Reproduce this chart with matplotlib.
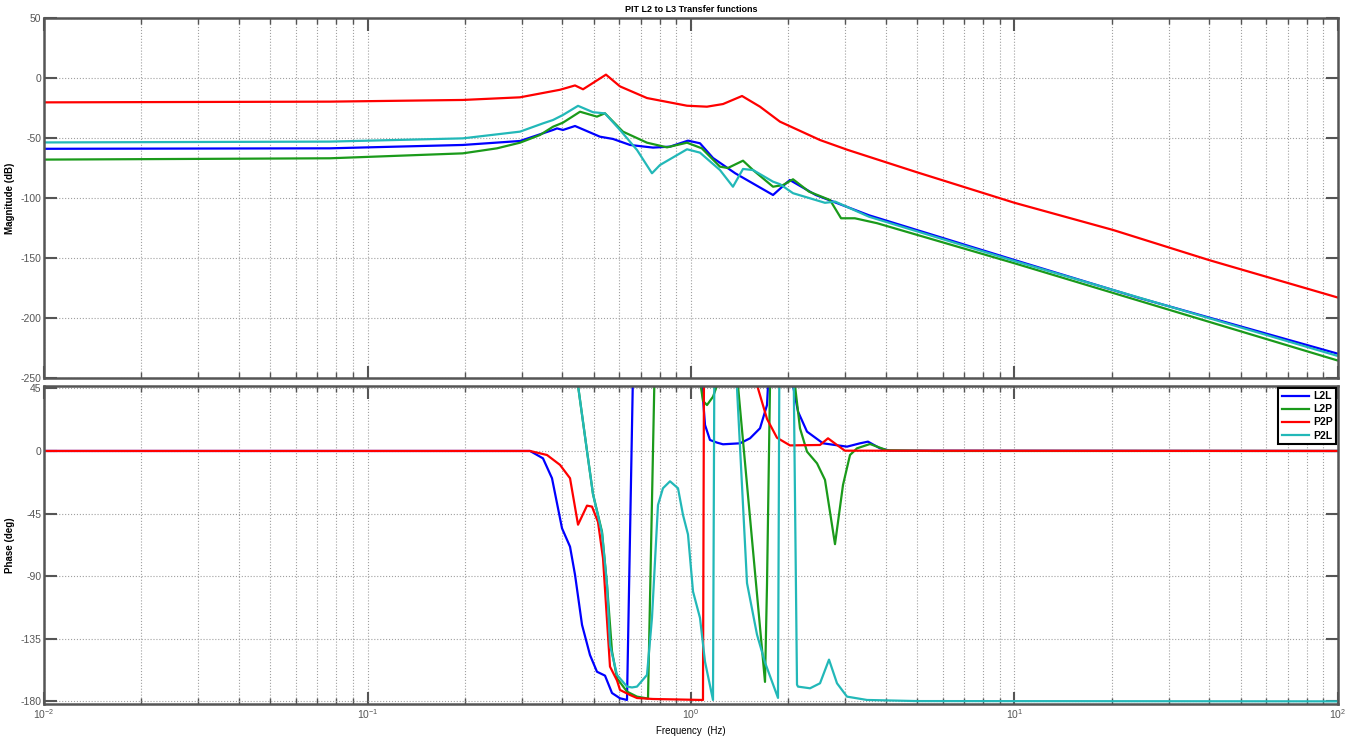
import numpy as np
import matplotlib.pyplot as plt

plt.rcParams['font.family'] = ['Liberation Sans', 'DejaVu Sans']
plt.rcParams['axes.unicode_minus'] = False

# ---- magnitude (dB) ----
f_l2l_mag = [0.01, 0.0766, 0.197, 0.296, 0.3745, 0.3853, 0.402, 0.438, 0.523, 0.574, 0.648,
             0.763, 0.861, 0.979, 1.066, 1.17, 1.37, 1.793, 2.02, 2.43, 3.55, 10, 24.1, 100]
l2l_mag = [-59, -58.6, -55.8, -52.5, -43.3, -42, -43.3, -40, -48.9, -50.8, -55.8,
           -58, -57.2, -52.2, -54.4, -66.7, -79.4, -97.5, -85, -97.5, -114.4, -151.7, -183, -229.8]

f_l2p_mag = [0.01, 0.0766, 0.197, 0.2514, 0.2961, 0.3413, 0.3745, 0.402, 0.4539, 0.512, 0.542,
             0.616, 0.731, 0.843, 0.972, 1.08, 1.229, 1.30, 1.448, 1.555, 1.793, 1.925, 2.067,
             2.3165, 2.69, 2.91, 3.21, 3.76, 10, 100]
l2p_mag = [-68, -66.9, -62.8, -58.6, -53.9, -47.5, -40.6, -37.2, -28.1, -32.2, -29.4,
           -44.7, -53.9, -57.8, -53.9, -58.6, -73.9, -75, -68.9, -76.7, -90.6, -89.2, -84.4,
           -94.7, -101.7, -116.9, -116.9, -121, -154.4, -235.5]

f_p2p_mag = [0.01, 0.0766, 0.197, 0.2961, 0.3936, 0.438, 0.4637, 0.546, 0.6033, 0.731, 0.972,
             1.12, 1.256, 1.438, 1.634, 1.884, 2.505, 3.057, 4.96, 10, 20.2, 39.9, 100]
p2p_mag = [-20.3, -19.7, -18.3, -16.1, -9.8, -6.2, -9.4, 2.8, -7.0, -16.7, -23.1,
           -23.9, -21.7, -15.0, -23.9, -36.4, -51.7, -60, -78.3, -104, -126.7, -151.7, -183]

f_p2l_mag = [0.01, 0.0766, 0.197, 0.2961, 0.3487, 0.3745, 0.402, 0.4475, 0.4978, 0.542, 0.6033,
             0.681, 0.7575, 0.802, 0.972, 1.066, 1.229, 1.348, 1.448, 1.555, 1.793, 1.884,
             2.067, 2.595, 2.79, 3.55, 10, 100]
p2l_mag = [-53.7, -53, -50.3, -44.7, -37.8, -35, -30.8, -23.2, -28.5, -29.5, -43.3,
           -60, -79.4, -72.5, -59.4, -62.2, -76.7, -90.6, -75.8, -76.7, -86.4, -88.5,
           -96, -104, -103, -115.6, -152.5, -231.7]

# ---- phase (deg) ----
f_l2l_ph = [0.01, 0.318, 0.3487, 0.3718, 0.3993, 0.4227, 0.438, 0.4604, 0.4873, 0.5121, 0.5422,
            0.5699, 0.6033, 0.6341, 0.6761, 0.9, 1.051, 1.0892, 1.1049, 1.1446, 1.2034, 1.2558,
            1.4174, 1.5221, 1.6342, 1.7177, 1.7298, 1.78, 2.02, 2.0668, 2.1419, 2.2836, 2.5586,
            3.0352, 3.3296, 3.5246, 3.8388, 4.1215, 100]
l2l_ph = [0, 0, -5.3, -19.6, -55.6, -68.8, -89, -125, -146.7, -158.7, -161.5,
          -174, -177.8, -179, 175, 150, 90, 38, 18.7, 7.9, 6.0, 4.8,
          5.5, 9.1, 16.3, 33, 47, 120, 100, 47, 28.3, 13.9, 5.5,
          3.1, 5.5, 6.7, 1.9, 0.2, 0]

f_l2p_ph = [0.01, 0.408, 0.4475, 0.477, 0.4978, 0.5307, 0.5499, 0.5699, 0.5906, 0.6341, 0.6809,
            0.7364, 0.79, 1.051, 1.0892, 1.1206, 1.1695, 1.2034, 1.26, 1.35, 1.397, 1.6933,
            1.7177, 1.7547, 1.78, 2.02, 2.0965, 2.1723, 2.2836, 2.4521, 2.5954, 2.7869, 2.9505,
            3.101, 3.2591, 3.5753, 4.0351, 5.6, 100]
l2p_ph = [180, 180, 47, 0, -31, -58, -96, -144, -163.4, -173, -176.6,
          -178, 175, 60, 36, 33, 39, 47, 90, 90, 47, -166,
          -96, 47, 120, 120, 47, 16.3, -0.5, -8.9, -20.8, -67, -24.4,
          -2.9, 1.9, 5, 0.5, 0, 0]

f_p2p_ph = [0.01, 0.3179, 0.3588, 0.3936, 0.4227, 0.4475, 0.477, 0.4943, 0.5158, 0.5345, 0.5618,
            0.5906, 0.6033, 0.6477, 0.6809, 0.763, 1.089, 1.1008, 1.15, 1.32, 1.52, 1.611,
            1.718, 1.844, 2.023, 2.505, 2.652, 2.827, 2.99, 100]
p2p_ph = [0, 0, -2.9, -10, -19.6, -53, -39.3, -40, -51, -77, -155,
          -165, -171.8, -175.4, -177.6, -178.3, -179, 179, 165, 120, 70, 45,
          23, 9.5, 4, 4.3, 9.1, 4.3, 0.2, 0]

f_p2l_ph = [0.01, 0.408, 0.4475, 0.477, 0.4978, 0.5307, 0.5499, 0.5618, 0.5906, 0.6341, 0.657,
            0.6809, 0.7311, 0.7575, 0.7906, 0.8191, 0.8612, 0.9116, 0.9447, 0.9788, 1.0144,
            1.0661, 1.1049, 1.1695, 1.1863, 1.3014, 1.3874, 1.4899, 1.5996, 1.6933, 1.8575,
            1.8842, 2.0668, 2.1266, 2.1419, 2.3331, 2.5051, 2.6706, 2.827, 3.0352, 3.4995, 5, 100]
p2l_ph = [180, 180, 47, 0, -31, -59, -96, -139.5, -161, -169.4, -170,
          -169.4, -161, -120, -38.8, -26.8, -21.8, -26.8, -46, -60, -101,
          -120, -151.5, -179, 175, 140, 45, -95, -132, -152, -177.5,
          175, 100, -168, -169.4, -170.6, -167, -150, -167, -176.6, -179, -179.8, -180]

labels = ['L2L', 'L2P', 'P2P', 'P2L']
colors = ['#0000ff', '#1a9a1a', '#ff0000', '#22b8b8']

fig = plt.figure(figsize=(13.54, 7.42), dpi=100)
ax1 = fig.add_axes([0.0325, 0.49057, 0.95568, 0.48517])
ax2 = fig.add_axes([0.0325, 0.05121, 0.95568, 0.42857])

mag = [(f_l2l_mag, l2l_mag), (f_l2p_mag, l2p_mag), (f_p2p_mag, p2p_mag), (f_p2l_mag, p2l_mag)]
ph = [(f_l2l_ph, l2l_ph), (f_l2p_ph, l2p_ph), (f_p2p_ph, p2p_ph), (f_p2l_ph, p2l_ph)]

for (f, m), c, lab in zip(mag, colors, labels):
    ax1.semilogx(f, m, color=c, lw=1.6, label=lab)
for (f, p), c, lab in zip(ph, colors, labels):
    ax2.semilogx(f, p, color=c, lw=1.6, label=lab)

spine_c = '#555555'
for ax in (ax1, ax2):
    ax.set_xlim(0.01, 100)
    ax.grid(True, which='major', axis='both', linestyle=':', color='#a0a0a0', lw=0.8)
    ax.grid(True, which='minor', axis='x', linestyle=':', color='#a0a0a0', lw=0.8)
    ax.tick_params(which='both', direction='in', top=True, right=True, color=spine_c,
                   labelcolor='#555555', labelsize=7.5, pad=2)
    ax.tick_params(which='major', length=9, width=1.5)
    ax.tick_params(which='minor', length=4, width=1.0)
    for s in ax.spines.values():
        s.set_color(spine_c)
        s.set_linewidth(1.8)

ax1.set_ylim(-250, 50)
ax1.set_yticks(np.arange(-250, 51, 50))
ax1.tick_params(axis='x', which='both', labelbottom=False)
ax1.set_ylabel('Magnitude (dB)', fontsize=7, fontweight='bold')
ax1.yaxis.set_label_coords(-0.0224, 0.5)
ax1.set_title('PIT L2 to L3 Transfer functions', fontsize=6.5, fontweight='bold', pad=4)

ax2.set_ylim(-181.9, 46.7)
ax2.set_yticks([45, 0, -45, -90, -135, -180])
ax2.set_ylabel('Phase (deg)', fontsize=7, fontweight='bold')
ax2.yaxis.set_label_coords(-0.0224, 0.5)
ax2.set_xlabel('Frequency  (Hz)', fontsize=7, labelpad=4)

leg = ax2.legend(loc='upper right', fontsize=7.5, fancybox=False, framealpha=1,
                 edgecolor='black', handlelength=2.6, borderaxespad=0.15,
                 labelspacing=0.3, borderpad=0.35, handletextpad=0.4)
leg.get_frame().set_linewidth(1.5)
for t in leg.get_texts():
    t.set_fontweight('bold')

fig.savefig('out.png', dpi=100)
